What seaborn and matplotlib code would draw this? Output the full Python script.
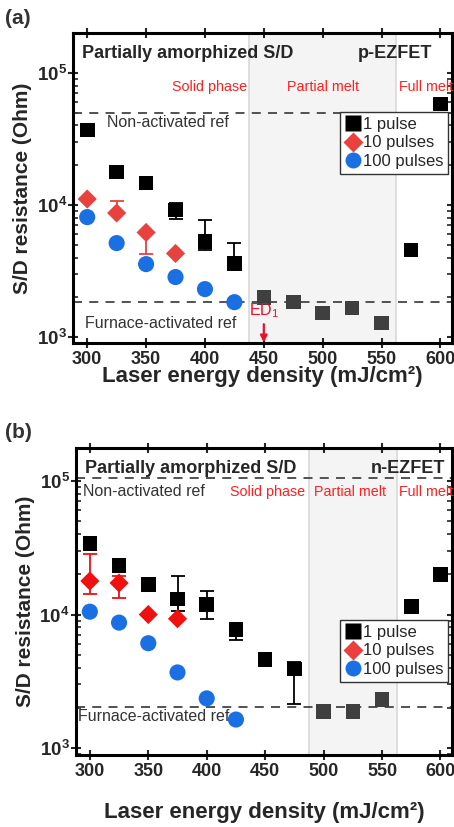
import numpy as np
import pandas as pd
import seaborn as sns
import matplotlib.pyplot as plt
from matplotlib.ticker import FixedLocator, FixedFormatter, LogLocator, NullFormatter
from matplotlib.lines import Line2D

sns.set_theme(style="ticks")
plt.rcParams['font.family'] = ['Liberation Sans', 'DejaVu Sans']
plt.rcParams['mathtext.fontset'] = 'custom'
plt.rcParams['mathtext.rm'] = 'Liberation Sans'
plt.rcParams['mathtext.bf'] = 'Liberation Sans:bold'

# ---- panel (a): p-EZFET ----
energy = [300, 325, 350, 375, 400, 425, 450, 475, 500, 525, 550, 575, 600]
a_1p = [3.7e4, 1.78e4, 1.47e4, 9.2e3, 5.3e3, 3.6e3, 2.0e3, 1.84e3, 1.52e3, 1.66e3, 1.28e3, 4.55e3, 5.8e4]
a_1p_hi = [np.nan, np.nan, np.nan, 1.03e4, 7.7e3, 5.2e3, np.nan, np.nan, np.nan, np.nan, np.nan, np.nan, np.nan]
a_1p_lo = [np.nan, np.nan, np.nan, 7.8e3, 4.6e3, np.nan, np.nan, np.nan, np.nan, np.nan, np.nan, np.nan, np.nan]
e10 = [300, 325, 350, 375]
a_10p = [1.11e4, 8.7e3, 6.2e3, 4.3e3]
a_10p_hi = [np.nan, 1.07e4, np.nan, np.nan]
a_10p_lo = [np.nan, np.nan, 4.25e3, np.nan]
e100 = [300, 325, 350, 375, 400, 425]
a_100p = [8.1e3, 5.15e3, 3.57e3, 2.85e3, 2.31e3, 1.84e3]
a_nonact = 5.0e4
a_furnace = 1.84e3
a_span = (437.5, 562.5)

# ---- panel (b): n-EZFET ----
b_1p = [3.39e4, 2.32e4, 1.67e4, 1.31e4, 1.19e4, 7.7e3, 4.6e3, 3.9e3, 1.89e3, 1.88e3, 2.32e3, 1.15e4, 2.0e4]
b_1p_hi = [np.nan, np.nan, np.nan, 1.95e4, 1.5e4, 8.5e3, np.nan, 4.4e3, np.nan, np.nan, np.nan, np.nan, np.nan]
b_1p_lo = [np.nan, np.nan, np.nan, 1.07e4, 9.3e3, 6.5e3, np.nan, 2.13e3, np.nan, np.nan, np.nan, np.nan, np.nan]
b_10p = [1.78e4, 1.72e4, 1.0e4, 9.3e3]
b_10p_hi = [2.85e4, 1.95e4, np.nan, np.nan]
b_10p_lo = [1.42e4, 1.34e4, np.nan, np.nan]
b_100p = [1.05e4, 8.7e3, 6.1e3, 3.69e3, 2.36e3, 1.64e3]
b_nonact = 1.05e5
b_furnace = 2.05e3
b_span = (487.5, 562.5)

BLACK = "#000000"
GRAY = "#3f3f3f"
BLUE = "#1a6fe3"
RED_A = "#e8413e"
RED_B = "#f01010"
TXT_RED = "#ff2020"
LEG = ["1 pulse", "10 pulses", "100 pulses"]


def errbars(ax, x, y, hi, lo, color):
    x = np.array(x, float); y = np.array(y, float)
    hi = np.array(hi, float); lo = np.array(lo, float)
    up = np.where(np.isnan(hi), 0, hi - y)
    dn = np.where(np.isnan(lo), 0, y - lo)
    m = (up > 0) | (dn > 0)
    ax.errorbar(x[m], y[m], yerr=[dn[m], up[m]], fmt='none', ecolor=color,
                elinewidth=1.3, capsize=5, capthick=1.3, zorder=2)


def panel(ax, r1, r1hi, r1lo, r10, r10hi, r10lo, r100, nonact, furnace, span, red):
    ax.axvspan(span[0], span[1], color="#f4f4f4", zorder=0, lw=0)
    for xv in span:
        ax.axvline(xv, color="#d9d9d9", lw=1.2, zorder=0.5)
    ax.axhline(nonact, color="#444444", ls=(0, (5, 4)), lw=1.3, zorder=1)
    ax.axhline(furnace, color="#444444", ls=(0, (5, 4)), lw=1.3, zorder=1)

    errbars(ax, energy, r1, r1hi, r1lo, BLACK)
    errbars(ax, e10, r10, r10hi, r10lo, red)

    df1 = pd.DataFrame({"E": energy, "R": r1})
    inside = (df1["E"] > span[0]) & (df1["E"] < span[1])
    sns.scatterplot(data=df1[~inside], x="E", y="R", marker="s", s=110, color=BLACK,
                    edgecolor="none", ax=ax, zorder=3, legend=False)
    sns.scatterplot(data=df1[inside], x="E", y="R", marker="s", s=110, color=GRAY,
                    edgecolor="none", ax=ax, zorder=3, legend=False)
    sns.scatterplot(x=e10, y=r10, marker="D", s=95, color=red, edgecolor="none",
                    ax=ax, zorder=3, legend=False)
    sns.scatterplot(x=e100, y=r100, marker="o", s=135, color=BLUE, edgecolor="none",
                    ax=ax, zorder=3, legend=False)

    ax.set_yscale("log")
    ax.set_xlim(288, 610)
    ax.set_xticks([300, 350, 400, 450, 500, 550, 600])
    ax.yaxis.set_major_locator(FixedLocator([1e3, 1e4, 1e5]))
    ax.yaxis.set_major_formatter(FixedFormatter([r"$\mathbf{10^3}$", r"$\mathbf{10^4}$", r"$\mathbf{10^5}$"]))
    ax.yaxis.set_minor_locator(LogLocator(base=10, subs=np.arange(2, 10)))
    ax.yaxis.set_minor_formatter(NullFormatter())
    for lab in ax.get_xticklabels():
        lab.set_fontweight("bold")
    ax.tick_params(axis="x", which="major", direction="inout", length=7, width=1.5,
                   top=True, labelsize=13, pad=2)
    ax.tick_params(axis="y", which="major", direction="inout", length=7, width=1.5,
                   right=True, labelsize=13.5, pad=1)
    ax.tick_params(axis="y", which="minor", direction="in", length=3.5, width=1.2, right=True)
    for sp in ax.spines.values():
        sp.set_linewidth(2.2)
        sp.set_color("black")
    ax.set_ylabel("S/D resistance (Ohm)", fontsize=15, fontweight="bold", labelpad=3)

    handles = [Line2D([], [], ls="none", marker="s", ms=11, color=BLACK, mec="none"),
               Line2D([], [], ls="none", marker="D", ms=10, color=RED_A, mec="none"),
               Line2D([], [], ls="none", marker="o", ms=11.5, color=BLUE, mec="none")]
    return handles


def legend(ax, h, anchor):
    ax.legend(h, LEG, loc="upper right", bbox_to_anchor=anchor, fontsize=12,
              frameon=True, fancybox=False, edgecolor="#333333", framealpha=1,
              handletextpad=0.1, borderpad=0.3, labelspacing=0.2, handlelength=1.0,
              borderaxespad=0)


fig = plt.figure(figsize=(4.54, 8.27), dpi=100)
axa = fig.add_axes([0.161, 0.585, 0.835, 0.375])
axb = fig.add_axes([0.167, 0.087, 0.829, 0.371])

h = panel(axa, a_1p, a_1p_hi, a_1p_lo, a_10p, a_10p_hi, a_10p_lo, a_100p,
          a_nonact, a_furnace, a_span, RED_A)
axa.set_ylim(900, 2.0e5)
axa.set_xlabel("Laser energy density (mJ/cm²)", fontsize=16, fontweight="bold", labelpad=-1)
legend(axa, h, (0.99, 0.745))
axa.text(0.024, 0.935, "Partially amorphized S/D", transform=axa.transAxes, fontsize=13,
         fontweight="bold", va="center")
axa.text(0.947, 0.935, "p-EZFET", transform=axa.transAxes, fontsize=13,
         fontweight="bold", va="center", ha="right")
for t, xf in [("Solid phase", 0.361), ("Partial melt", 0.66), ("Full melt", 0.93)]:
    axa.text(xf, 0.826, t, transform=axa.transAxes, fontsize=10.3, color=TXT_RED,
             ha="center", va="center")
axa.text(0.09, 0.712, "Non-activated ref", transform=axa.transAxes, fontsize=11.5,
         color="#333333", va="center")
axa.text(0.032, 0.065, "Furnace-activated ref", transform=axa.transAxes, fontsize=11.5,
         color="#333333", va="center")
axa.annotate("ED$_1$", xy=(450, 910), xytext=(450, 1.6e3), color="#e8102a",
             fontsize=11.5, ha="center", va="center",
             arrowprops=dict(arrowstyle="-|>", color="#e8102a", lw=1.6, mutation_scale=10,
                             shrinkA=1, shrinkB=0))

h = panel(axb, b_1p, b_1p_hi, b_1p_lo, b_10p, b_10p_hi, b_10p_lo, b_100p,
          b_nonact, b_furnace, b_span, RED_B)
axb.set_ylim(890, 1.75e5)
axb.set_xlabel("Laser energy density (mJ/cm²)", fontsize=16, fontweight="bold", labelpad=16)
legend(axb, h, (0.99, 0.44))
axb.text(0.024, 0.935, "Partially amorphized S/D", transform=axb.transAxes, fontsize=13,
         fontweight="bold", va="center")
axb.text(0.981, 0.935, "n-EZFET", transform=axb.transAxes, fontsize=13,
         fontweight="bold", va="center", ha="right")
for t, xf in [("Solid phase", 0.51), ("Partial melt", 0.729), ("Full melt", 0.93)]:
    axb.text(xf, 0.857, t, transform=axb.transAxes, fontsize=10.3, color=TXT_RED,
             ha="center", va="center")
axb.text(0.019, 0.86, "Non-activated ref", transform=axb.transAxes, fontsize=11.5,
         color="#333333", va="center")
axb.text(0.005, 0.127, "Furnace-activated ref", transform=axb.transAxes, fontsize=11.5,
         color="#333333", va="center")

fig.text(0.012, 0.978, "(a)", fontsize=15, fontweight="bold", color="#333333", va="center")
fig.text(0.012, 0.477, "(b)", fontsize=15, fontweight="bold", color="#333333", va="center")

fig.savefig("out.png", dpi=100)
